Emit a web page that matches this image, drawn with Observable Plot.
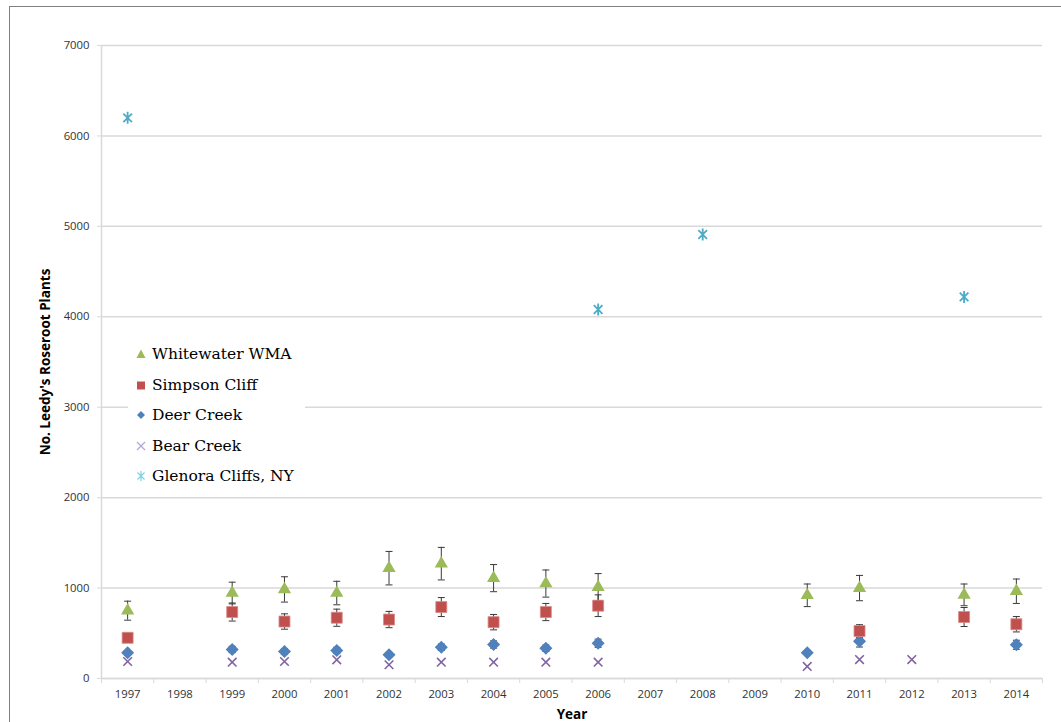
<!DOCTYPE html>
<html>
<head>
<meta charset="utf-8">
<script src="https://cdn.jsdelivr.net/npm/d3@7"></script>
<script src="https://cdn.jsdelivr.net/npm/@observablehq/plot@0.6"></script>
<style>
  html, body { margin: 0; padding: 0; background: #fff; }
  #wrap { position: relative; width: 1061px; height: 722px; overflow: hidden; }
  #frame { position: absolute; left: 9px; top: 6px; width: 1200px; height: 900px;
           border-left: 1px solid #808080; border-top: 1px solid #808080; }
  #chart { position: absolute; left: 0; top: 0; }
  #legend { position: absolute; left: 128px; top: 337px; width: 177px; height: 154px;
            background: #fff; padding-top: 2px; box-sizing: border-box;
            font-family: "DejaVu Serif", serif; font-size: 15.5px; color: #000; }
  .item { height: 30.5px; display: flex; align-items: center; }
  .item svg { width: 12px; height: 12px; margin-left: 7px; margin-right: 5px; flex: none; }
</style>
</head>
<body>
<div id="wrap">
  <div id="frame"></div>
  <div id="chart"></div>
  <div id="legend"></div>
</div>
<script>
// ---- data ----
const years = [1997, 1998, 1999, 2000, 2001, 2002, 2003, 2004, 2005, 2006, 2007, 2008, 2009, 2010, 2011, 2012, 2013, 2014];
const yTicks = [0, 1000, 2000, 3000, 4000, 5000, 6000, 7000];

const seriesNames = ["Whitewater WMA", "Simpson Cliff", "Deer Creek", "Bear Creek", "Glenora Cliffs, NY"];

const whitewaterYears = [1997, 1999, 2000, 2001, 2002, 2003, 2004, 2005, 2006, 2010, 2011, 2013, 2014];
const whitewater      = [750, 945, 985, 945, 1220, 1270, 1110, 1050, 1010, 920, 1000, 925, 965];
const whitewaterErr   = [105, 120, 140, 130, 185, 180, 150, 150, 150, 125, 140, 120, 135];

const simpsonYears = [1997, 1999, 2000, 2001, 2002, 2003, 2004, 2005, 2006, 2011, 2013, 2014];
const simpson      = [450, 735, 630, 672, 652, 790, 623, 735, 805, 525, 680, 600];
const simpsonErr   = [50, 100, 85, 95, 90, 105, 85, 95, 120, 70, 105, 85];

const deerYears = [1997, 1999, 2000, 2001, 2002, 2003, 2004, 2005, 2006, 2010, 2011, 2014];
const deer      = [284, 321, 299, 310, 262, 346, 376, 335, 390, 284, 413, 373];
const deerErr   = [25, 35, 30, 35, 25, 35, 40, 35, 45, 20, 65, 50];

const bearYears = [1997, 1999, 2000, 2001, 2002, 2003, 2004, 2005, 2006, 2010, 2011, 2012];
const bear      = [188, 180, 188, 207, 152, 180, 180, 180, 180, 133, 210, 210];

const glenoraYears = [1997, 2006, 2008, 2013];
const glenora      = [6200, 4080, 4910, 4220];

const colors = {
  "Whitewater WMA": "#9bbb59",
  "Simpson Cliff": "#c0504d",
  "Deer Creek": "#4f81bd",
  "Bear Creek": "#8064a2",
  "Glenora Cliffs, NY": "#4bacc6"
};

// ---- tables ----
const rows = (ys, vs, es) => ys.map((y, i) => ({year: y, value: vs[i], err: es ? es[i] : 0}));
const ww = rows(whitewaterYears, whitewater, whitewaterErr);
const sc = rows(simpsonYears, simpson, simpsonErr);
const dc = rows(deerYears, deer, deerErr);
const bc = rows(bearYears, bear);
const gc = rows(glenoraYears, glenora);
const withErr = [...dc, ...sc, ...ww];

const xDomain = [years[0] - 0.5, years[years.length - 1] + 0.5];
const boundaries = years.map(y => y - 0.5).concat([years[years.length - 1] + 0.5]);

// custom symbols
const capSymbol = { draw(ctx, size) { ctx.moveTo(-3.5, 0); ctx.lineTo(3.5, 0); } };
const starSymbol = { draw(ctx, size) {
  const r = Math.sqrt(size / Math.PI);
  const d = r * 0.72;
  ctx.moveTo(-d, -d); ctx.lineTo(d, d);
  ctx.moveTo(-d, d); ctx.lineTo(d, -d);
  ctx.moveTo(0, -r); ctx.lineTo(0, r);
} };
const timesSymbol = { draw(ctx, size) {
  const r = Math.sqrt(size / Math.PI);
  ctx.moveTo(-r, -r); ctx.lineTo(r, r);
  ctx.moveTo(-r, r); ctx.lineTo(r, -r);
} };

const grid = "#d9d9d9";

const chart = Plot.plot({
  width: 1061,
  height: 722,
  marginLeft: 101,
  marginRight: 19,
  marginTop: 45,
  marginBottom: 44,
  style: { fontFamily: "'Open Sans', sans-serif", fontSize: "11.3px", color: "#333", background: "transparent" },
  x: { domain: xDomain },
  y: { domain: [yTicks[0], yTicks[yTicks.length - 1]] },
  marks: [
    Plot.gridY(yTicks, { stroke: grid, strokeOpacity: 1, strokeWidth: 1.5 }),
    Plot.ruleX([xDomain[0]], { stroke: grid, strokeWidth: 1.5 }),
    Plot.ruleY([yTicks[0]], { stroke: grid, strokeWidth: 1.5 }),
    Plot.axisY({ ticks: yTicks, tickSize: 4, tickPadding: 8, stroke: grid, tickFormat: d => String(d),
      label: "No. Leedy's Roseroot Plants", labelAnchor: "center", labelArrow: "none", labelOffset: 61 }),
    Plot.axisX({ ticks: years, tickSize: 0, tickPadding: 11, tickFormat: d => String(d),
      label: "Year", labelAnchor: "center", labelArrow: "none", labelOffset: 40 }),
    Plot.axisX({ ticks: boundaries, tickSize: 5, stroke: grid, tickFormat: () => "", label: null }),
    // error bars
    Plot.ruleX(withErr, { x: "year", y1: d => d.value - d.err, y2: d => d.value + d.err, stroke: "#3a3a3a", strokeWidth: 1 }),
    Plot.dot(withErr, { x: "year", y: d => d.value - d.err, symbol: capSymbol, stroke: "#3a3a3a", strokeWidth: 1, r: 3 }),
    Plot.dot(withErr, { x: "year", y: d => d.value + d.err, symbol: capSymbol, stroke: "#3a3a3a", strokeWidth: 1, r: 3 }),
    // markers
    Plot.dot(bc, { x: "year", y: "value", symbol: timesSymbol, stroke: colors["Bear Creek"], strokeWidth: 1.6, r: 4.3 }),
    Plot.dot(dc, { x: "year", y: "value", symbol: "square", rotate: 45, fill: colors["Deer Creek"], r: 5.2 }),
    Plot.dot(sc, { x: "year", y: "value", symbol: "square", fill: colors["Simpson Cliff"], stroke: "#d98a88", strokeWidth: 0.8, r: 6.2 }),
    Plot.dot(ww, { x: "year", y: "value", symbol: "triangle", fill: colors["Whitewater WMA"], r: 4.9 }),
    Plot.dot(gc, { x: "year", y: "value", symbol: starSymbol, stroke: colors["Glenora Cliffs, NY"], strokeWidth: 1.8, r: 6 })
  ]
});
// bold axis titles
chart.querySelectorAll("g[aria-label='y-axis label'] text, g[aria-label='x-axis label'] text").forEach(t => {
  t.setAttribute("font-weight", "bold");
  t.setAttribute("font-size", "13.5px");
  t.setAttribute("fill", "#000");
});
document.getElementById("chart").appendChild(chart);

// ---- legend ----
const legendIcons = {
  "Whitewater WMA": `<path d="M6,1.5 L10.5,10 L1.5,10 Z" fill="#9bbb59"/>`,
  "Simpson Cliff": `<rect x="2" y="2.5" width="8" height="8" fill="#c0504d"/>`,
  "Deer Creek": `<path d="M6,2 L10,6 L6,10 L2,6 Z" fill="#4f81bd"/>`,
  "Bear Creek": `<path d="M2,2 L10,10 M2,10 L10,2" stroke="#b3a6cf" stroke-width="1.2"/>`,
  "Glenora Cliffs, NY": `<path d="M2.5,2.5 L9.5,9.5 M2.5,9.5 L9.5,2.5 M6,1 L6,11" stroke="#7fd0e3" stroke-width="1.2"/>`
};
const leg = document.getElementById("legend");
seriesNames.forEach(name => {
  const div = document.createElement("div");
  div.className = "item";
  div.innerHTML = `<svg viewBox="0 0 12 12">${legendIcons[name]}</svg><span>${name}</span>`;
  leg.appendChild(div);
});
</script>
</body>
</html>
